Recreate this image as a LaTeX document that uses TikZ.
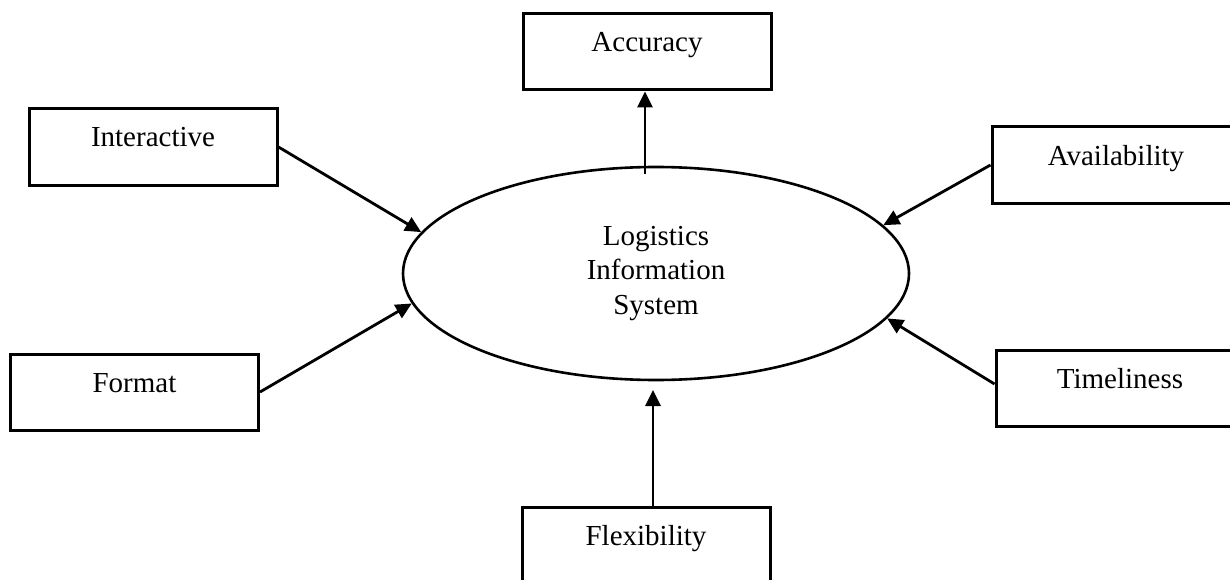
\documentclass[tikz,border=0pt]{standalone}
\usepackage{fontspec}
\setmainfont{Liberation Serif}
\usetikzlibrary{shapes.geometric,arrows.meta}
\tikzset{
  box/.style={draw, line width=3pt, rectangle, inner sep=0pt,
    minimum width=248pt, text height=38pt, text depth=38pt, anchor=base,
    font=\fontsize{29}{34.5}\selectfont},
  conn/.style={line width=2.8pt, -{Triangle[length=16pt,width=15pt]}},
}
\begin{document}
\begin{tikzpicture}[x=1pt,y=-1pt]
\useasboundingbox (0,0) rectangle (1230,580);
\clip (0,0) rectangle (1230,580);
\node[draw, ellipse, line width=2.6pt, minimum width=506pt, minimum height=213pt,
  inner sep=0pt, align=center, font=\fontsize{29}{34.5}\selectfont]
  (lis) at (656,273.5) {Logistics\\Information\\System};
\node[box] (acc) at (647,52) {Accuracy};
\node[box] (int) at (153,147) {Interactive};
\node[box] (fmt) at (134.5,392) {Format};
\node[box] (ava) at (1116,165) {Availability};
\node[box] (tim) at (1120,388) {Timeliness};
\node[box] (flx) at (646,545) {Flexibility};
\coordinate (accstart) at (645,174);
\coordinate (flxtip) at (653,390);
\draw[conn] (accstart) -- (accstart |- acc.south);
\draw[conn] (int.east) -- (lis.170.9);
\draw[conn] (fmt.east) -- (lis.187.4);
\draw[conn] (ava.west) -- (lis.12);
\draw[conn] ([yshift=4pt]tim.west) -- (lis.349.6);
\draw[conn] (flxtip |- flx.north) -- (flxtip);
\end{tikzpicture}
\end{document}
